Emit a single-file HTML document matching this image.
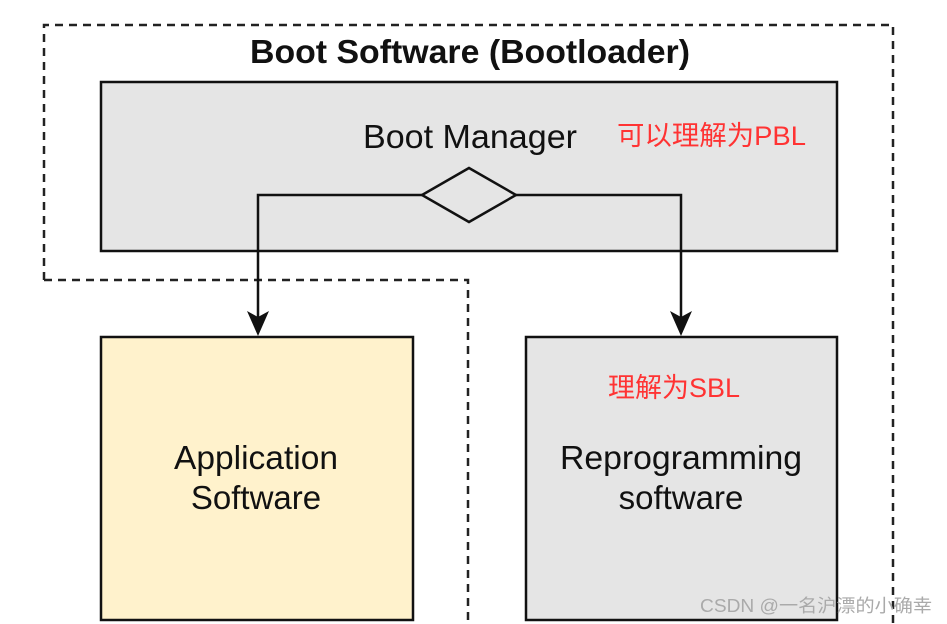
<!DOCTYPE html>
<html><head><meta charset="utf-8"><style>
html,body{margin:0;padding:0;background:#fff;}
svg{display:block;}
</style></head><body>
<svg width="947" height="624" viewBox="0 0 947 624" xmlns="http://www.w3.org/2000/svg">
<path d="M44,280 L44,25 L893,25 L893,624" fill="none" stroke="#222" stroke-width="2.5" stroke-dasharray="8,6"/>
<path d="M44,280 L468,280 L468,624" fill="none" stroke="#222" stroke-width="2.5" stroke-dasharray="8,6"/>
<text x="470" y="63" text-anchor="middle" font-family="Liberation Sans, sans-serif" font-weight="bold" font-size="33" fill="#111" textLength="440" lengthAdjust="spacingAndGlyphs">Boot Software (Bootloader)</text>
<rect x="101" y="82" width="736" height="169" fill="#e5e5e5" stroke="#111" stroke-width="2.5"/>
<text x="470" y="148" text-anchor="middle" font-family="Liberation Sans, sans-serif" font-size="33" fill="#111" textLength="214" lengthAdjust="spacingAndGlyphs">Boot Manager</text>
<text x="617" y="145" font-family="Liberation Sans, 'Noto Sans CJK SC', sans-serif" font-size="27" fill="#f33" textLength="189" lengthAdjust="spacingAndGlyphs">可以理解为PBL</text>
<polyline points="422,195 258,195 258,320" fill="none" stroke="#111" stroke-width="2.5"/>
<polyline points="516,195 681,195 681,320" fill="none" stroke="#111" stroke-width="2.5"/>
<polygon points="469,168 516,195 469,222 422,195" fill="#e5e5e5" stroke="#111" stroke-width="2.5"/>
<polygon points="247,311 258,317 269,311 258,336" fill="#111"/>
<polygon points="670,311 681,317 692,311 681,336" fill="#111"/>
<rect x="101" y="337" width="312" height="283" fill="#fff2cc" stroke="#111" stroke-width="2.5"/>
<text x="256" y="469" text-anchor="middle" font-family="Liberation Sans, sans-serif" font-size="33" fill="#111" textLength="164" lengthAdjust="spacingAndGlyphs">Application</text>
<text x="256" y="509" text-anchor="middle" font-family="Liberation Sans, sans-serif" font-size="33" fill="#111">Software</text>
<rect x="526" y="337" width="311" height="283" fill="#e5e5e5" stroke="#111" stroke-width="2.5"/>
<text x="608" y="397" font-family="Liberation Sans, 'Noto Sans CJK SC', sans-serif" font-size="27" fill="#f33" textLength="132" lengthAdjust="spacingAndGlyphs">理解为SBL</text>
<text x="681" y="469" text-anchor="middle" font-family="Liberation Sans, sans-serif" font-size="33" fill="#111" textLength="242" lengthAdjust="spacingAndGlyphs">Reprogramming</text>
<text x="681" y="509" text-anchor="middle" font-family="Liberation Sans, sans-serif" font-size="33" fill="#111">software</text>
<text x="932" y="612" text-anchor="end" font-family="Liberation Sans, 'Noto Sans CJK SC', sans-serif" font-size="18" fill="#aaa" textLength="232" lengthAdjust="spacingAndGlyphs">CSDN @一名沪漂的小确幸</text>
</svg>
</body></html>
